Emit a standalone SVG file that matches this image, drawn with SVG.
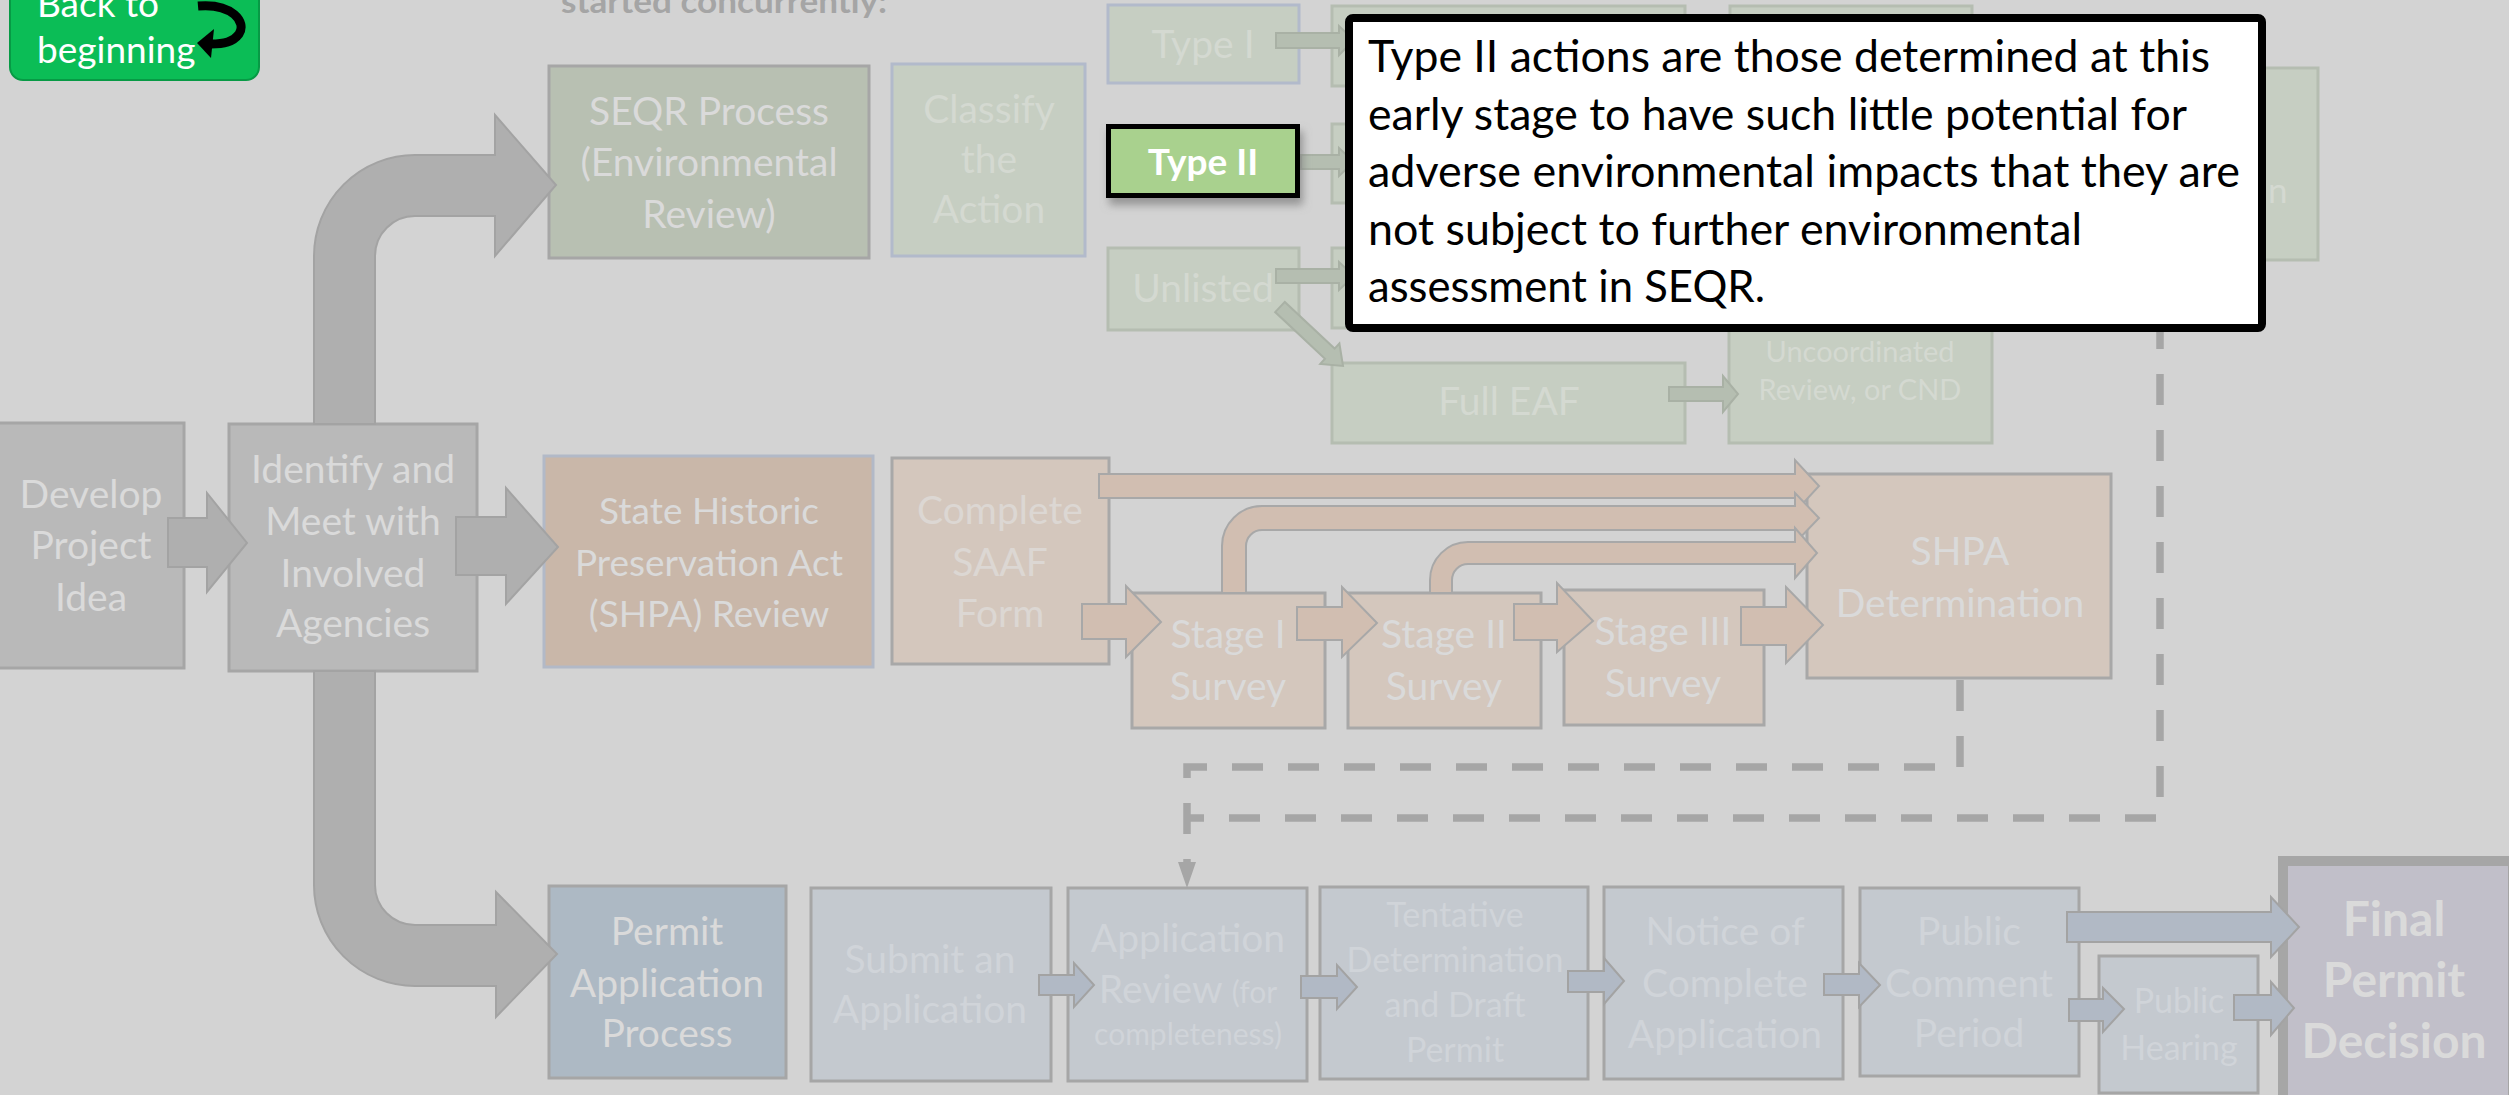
<svg xmlns="http://www.w3.org/2000/svg" width="2509" height="1095" viewBox="0 0 2509 1095">
<defs>
<style>
.t{font-family:Lato,"Open Sans","Liberation Sans",sans-serif;text-anchor:middle;font-size:39px;fill:#dadada}
.tg{fill:#d4d9d1}
.tt{fill:#dcd7d3}
.tb{fill:#d0d4d9}
.gray{fill:#b9b9b9;stroke:#a6a6a6;stroke-width:3}
.seqr{fill:#b8c0b2;stroke:#a6a6a6;stroke-width:3}
.lg{fill:#c6cec2;stroke:#b5bdb1;stroke-width:3}
.lgb{fill:#c6cec2;stroke:#b2bacb;stroke-width:3}
.shpa{fill:#c9b7a9;stroke:#b2b9c7;stroke-width:3}
.tan{fill:#d4c7bd;stroke:#a8a8a8;stroke-width:3}
.pap{fill:#adb9c4;stroke:#a6a6a6;stroke-width:3}
.blu{fill:#c4c9cf;stroke:#a6a6a6;stroke-width:3}
.bigarrow{fill:#afafaf;stroke:#a3a3a3;stroke-width:2}
.garrow{fill:#b5beb1;stroke:#a9b1a5;stroke-width:2}
.tarrow{fill:#d1beb1;stroke:#a8a8a8;stroke-width:2}
.barrow{fill:#b1b9c5;stroke:#a3a3a3;stroke-width:2}
.dash{fill:none;stroke:#a6a6a6;stroke-width:7.5;stroke-dasharray:31 25}
.pop{font-family:Lato,"Open Sans","Liberation Sans",sans-serif;font-size:44.5px;fill:#000}
</style>
<filter id="sh" x="-20%" y="-20%" width="140%" height="150%">
<feDropShadow dx="3" dy="7" stdDeviation="4" flood-color="#7a7a7a" flood-opacity="0.7"/>
</filter>
<marker id="ah" markerUnits="userSpaceOnUse" markerWidth="26" markerHeight="22" refX="2" refY="11" orient="auto" viewBox="0 0 26 22">
<path d="M0,2 L26,11 L0,20 Z" fill="#a6a6a6"/>
</marker>
</defs>
<rect x="0" y="0" width="2509" height="1095" fill="#d3d3d3"/>

<!-- Back to beginning button -->
<g id="back-button">
<rect x="10" y="-30" width="249" height="110" rx="13" fill="#0bbd56" stroke="#079a45" stroke-width="2"/>
<text x="37" y="17" style="font-family:Lato,'Open Sans',sans-serif;font-size:37px;fill:#fff">Back to</text>
<text x="37" y="63" style="font-family:Lato,'Open Sans',sans-serif;font-size:37px;fill:#fff">beginning</text>
<path d="M198,6 C232,3 247,22 239,34 C233,42 224,44 211,44" fill="none" stroke="#000" stroke-width="9"/>
<polygon points="197,43 214,29 211,58" fill="#000"/>
</g>

<text id="heading" x="561" y="13" textLength="326" lengthAdjust="spacingAndGlyphs" style="font-family:Lato,'Open Sans',sans-serif;font-weight:bold;font-size:33px;fill:#a5a5a5">started concurrently:</text>

<!-- Nodes -->
<g id="develop">
<rect class="gray" x="-2" y="423" width="186" height="245"/>
<text class="t" x="91" y="508">Develop</text>
<text class="t" x="91" y="559">Project</text>
<text class="t" x="91" y="611">Idea</text>
</g>
<g id="identify">
<rect class="gray" x="229" y="424" width="248" height="247"/>
<text class="t" x="353" y="483">Identify and</text>
<text class="t" x="353" y="535">Meet with</text>
<text class="t" x="353" y="587">Involved</text>
<text class="t" x="353" y="637">Agencies</text>
</g>
<g id="seqr">
<rect class="seqr" x="549" y="66" width="320" height="192"/>
<text class="t" x="709" y="125">SEQR Process</text>
<text class="t" x="709" y="176">(Environmental</text>
<text class="t" x="709" y="228">Review)</text>
</g>
<g id="classify">
<rect class="lgb" x="892" y="64" width="193" height="192"/>
<text class="t tg" x="989" y="123">Classify</text>
<text class="t tg" x="989" y="173">the</text>
<text class="t tg" x="989" y="223">Action</text>
</g>
<g id="type1">
<rect class="lgb" x="1108" y="5" width="191" height="78"/>
<text class="t tg" x="1203" y="58">Type I</text>
</g>
<g id="unlisted">
<rect class="lg" x="1108" y="248" width="191" height="82"/>
<text class="t tg" x="1203" y="302">Unlisted</text>
</g>
<g id="type1-next"><rect class="lg" x="1332" y="6" width="353" height="80"/></g>
<g id="type2-next"><rect class="lg" x="1332" y="124" width="353" height="79"/></g>
<g id="unlisted-next"><rect class="lg" x="1332" y="248" width="353" height="80"/></g>
<g id="col3-top"><rect class="lg" x="1730" y="6" width="242" height="80"/></g>
<g id="full-eaf">
<rect class="lg" x="1332" y="363" width="353" height="80"/>
<text class="t tg" x="1509" y="415">Full EAF</text>
</g>
<g id="uncoordinated">
<rect class="lg" x="1729" y="300" width="263" height="143"/>
<text class="t tg" x="1860" y="362" style="font-size:29px">Uncoordinated</text>
<text class="t tg" x="1860" y="400" style="font-size:29px">Review, or CND</text>
</g>
<g id="seqr-determination">
<rect class="lg" x="2005" y="68" width="313" height="192"/>
<text class="t tg" x="2268" y="203" style="text-anchor:start;font-size:35px">n</text>
</g>

<g id="shpa-review">
<rect class="shpa" x="544" y="456" width="329" height="211"/>
<text class="t" x="709" y="524" style="font-size:37px">State Historic</text>
<text class="t" x="709" y="576" style="font-size:37px">Preservation Act</text>
<text class="t" x="709" y="627" style="font-size:37px">(SHPA) Review</text>
</g>
<g id="saaf">
<rect class="tan" x="892" y="458" width="217" height="206"/>
<text class="t tt" x="1000" y="524">Complete</text>
<text class="t tt" x="1000" y="576">SAAF</text>
<text class="t tt" x="1000" y="627">Form</text>
</g>
<g id="stage1">
<rect class="tan" x="1132" y="593" width="193" height="135"/>
<text class="t" x="1228" y="648">Stage I</text>
<text class="t" x="1228" y="700">Survey</text>
</g>
<g id="stage2">
<rect class="tan" x="1348" y="593" width="193" height="135"/>
<text class="t" x="1444" y="648">Stage II</text>
<text class="t" x="1444" y="700">Survey</text>
</g>
<g id="stage3">
<rect class="tan" x="1564" y="590" width="200" height="135"/>
<text class="t" x="1663" y="645">Stage III</text>
<text class="t" x="1663" y="697">Survey</text>
</g>
<g id="shpa-determination">
<rect class="tan" x="1807" y="474" width="304" height="204"/>
<text class="t" x="1960" y="565">SHPA</text>
<text class="t" x="1960" y="617">Determination</text>
</g>

<g id="permit-process">
<rect class="pap" x="549" y="886" width="237" height="192"/>
<text class="t" x="667" y="945">Permit</text>
<text class="t" x="667" y="997">Application</text>
<text class="t" x="667" y="1047">Process</text>
</g>
<g id="submit">
<rect class="blu" x="811" y="888" width="240" height="193"/>
<text class="t tb" x="930" y="973">Submit an</text>
<text class="t tb" x="930" y="1023">Application</text>
</g>
<g id="app-review">
<rect class="blu" x="1068" y="888" width="239" height="193"/>
<text class="t tb" x="1188" y="952">Application</text>
<text class="t tb" x="1188" y="1003">Review <tspan style="font-size:30px">(for</tspan></text>
<text class="t tb" x="1188" y="1045" style="font-size:30px">completeness)</text>
</g>
<g id="tentative">
<rect class="blu" x="1320" y="887" width="268" height="192"/>
<text class="t tb" x="1455" y="927" style="font-size:34px">Tentative</text>
<text class="t tb" x="1455" y="972" style="font-size:34px">Determination</text>
<text class="t tb" x="1455" y="1017" style="font-size:34px">and Draft</text>
<text class="t tb" x="1455" y="1062" style="font-size:34px">Permit</text>
</g>
<g id="notice">
<rect class="blu" x="1604" y="887" width="239" height="192"/>
<text class="t tb" x="1725" y="945">Notice of</text>
<text class="t tb" x="1725" y="997">Complete</text>
<text class="t tb" x="1725" y="1048">Application</text>
</g>
<g id="public-comment">
<rect class="blu" x="1860" y="888" width="219" height="188"/>
<text class="t tb" x="1969" y="945">Public</text>
<text class="t tb" x="1969" y="997">Comment</text>
<text class="t tb" x="1969" y="1047">Period</text>
</g>
<g id="public-hearing">
<rect class="blu" x="2099" y="956" width="159" height="137"/>
<text class="t tb" x="2179" y="1013" style="font-size:34px">Public</text>
<text class="t tb" x="2179" y="1060" style="font-size:34px">Hearing</text>
</g>
<g id="final-decision">
<rect x="2283" y="861" width="230" height="240" fill="#c1bfc9" stroke="#a6a6a6" stroke-width="10"/>
<text class="t" x="2394" y="936" style="font-weight:bold;font-size:48px">Final</text>
<text class="t" x="2394" y="997" style="font-weight:bold;font-size:48px">Permit</text>
<text class="t" x="2394" y="1058" style="font-weight:bold;font-size:48px">Decision</text>
</g>

<!-- Connectors -->
<g id="connectors">
<path class="bigarrow" d="M314,424 L314,256 A101,101 0 0 1 415,155 L495,155 L495,115 L556,185 L495,256 L495,216 L415,216 A40,40 0 0 0 375,256 L375,424 Z"/>
<path class="bigarrow" d="M314,671 L314,885 A101,101 0 0 0 415,986 L496,986 L496,1017 L557,954 L496,892 L496,925 L415,925 A40,40 0 0 1 375,885 L375,671 Z"/>
<polygon class="bigarrow" points="168,518 207,518 207,493 247,543 207,592 207,567 168,567"/>
<polygon class="bigarrow" points="456,517 506,517 506,488 558,547 506,604 506,575 456,575"/>

<polygon class="garrow" points="1276,33 1339,33 1339,26 1354,40 1339,55 1339,48 1276,48"/>
<polygon class="garrow" points="1301,155 1339,155 1339,148 1354,162 1339,176 1339,169 1301,169"/>
<polygon class="garrow" points="1276,269 1339,269 1339,262 1354,276 1339,290 1339,283 1276,283"/>
<polygon class="garrow" points="1275.2,312.1 1284.8,301.9 1334.6,348.6 1339.4,343.5 1343,366 1320.3,363.9 1325,358.8"/>
<polygon class="garrow" points="1669,387 1723,387 1723,376 1738,394 1723,412 1723,401 1669,401"/>

<polygon class="tarrow" points="1099,474 1795,474 1795,460 1819,486 1795,512 1795,498 1099,498"/>
<path class="tarrow" d="M1222,593 L1222,546 A40,40 0 0 1 1262,506 L1795,506 L1795,493 L1819,518 L1795,543 L1795,530 L1262,530 A16,16 0 0 0 1246,546 L1246,593 Z"/>
<path class="tarrow" d="M1430,593 L1430,580 A38,38 0 0 1 1468,542 L1795,542 L1795,528 L1817,553 L1795,578 L1795,564 L1468,564 A16,16 0 0 0 1452,580 L1452,593 Z"/>
<polygon class="tarrow" points="1082,604 1126,604 1126,586 1161,622 1126,657 1126,639 1082,639"/>
<polygon class="tarrow" points="1297,607 1342,607 1342,587 1377,623 1342,657 1342,640 1297,640"/>
<polygon class="tarrow" points="1514,604 1557,604 1557,583 1593,621 1557,652 1557,640 1514,640"/>
<polygon class="tarrow" points="1741,607 1786,607 1786,587 1823,625 1786,663 1786,645 1741,645"/>

<polygon class="barrow" points="1039,975 1074,975 1074,963 1094,985 1074,1007 1074,995 1039,995"/>
<polygon class="barrow" points="1301,976 1337,976 1337,965 1357,987 1337,1009 1337,998 1301,998"/>
<polygon class="barrow" points="1568,971 1604,971 1604,958 1624,981 1604,1004 1604,992 1568,992"/>
<polygon class="barrow" points="1824,974 1859,974 1859,963 1880,985 1859,1007 1859,995 1824,995"/>
<polygon class="barrow" points="2067,912 2271,912 2271,897 2299,927 2271,957 2271,942 2067,942"/>
<polygon class="barrow" points="2069,999 2103,999 2103,988 2124,1009 2103,1032 2103,1021 2069,1021"/>
<polygon class="barrow" points="2234,995 2271,995 2271,982 2294,1008 2271,1035 2271,1020 2234,1020"/>

<path class="dash" d="M2160,262 L2160,818 L1187,818"/>
<path class="dash" d="M1960,680 L1960,767 L1187,767 L1187,864" marker-end="url(#ah)"/>
</g>

<!-- Highlighted node and callout -->
<g id="type2">
<rect x="1108.5" y="126.5" width="189" height="69" fill="#a9d18e" stroke="#000" stroke-width="5" filter="url(#sh)"/>
<text x="1203" y="175" style="font-family:Lato,'Open Sans',sans-serif;font-weight:bold;font-size:37px;fill:#fff;text-anchor:middle">Type II</text>
</g>
<g id="callout">
<rect x="1349" y="18" width="913" height="310" rx="4" fill="#fff" stroke="#000" stroke-width="8"/>
<text class="pop" x="1368" y="72" textLength="842" lengthAdjust="spacingAndGlyphs">Type II actions are those determined at this</text>
<text class="pop" x="1368" y="130" textLength="819" lengthAdjust="spacingAndGlyphs">early stage to have such little potential for</text>
<text class="pop" x="1368" y="187" textLength="872" lengthAdjust="spacingAndGlyphs">adverse environmental impacts that they are</text>
<text class="pop" x="1368" y="245" textLength="714" lengthAdjust="spacingAndGlyphs">not subject to further environmental</text>
<text class="pop" x="1368" y="302" textLength="397" lengthAdjust="spacingAndGlyphs">assessment in SEQR.</text>
</g>
</svg>
